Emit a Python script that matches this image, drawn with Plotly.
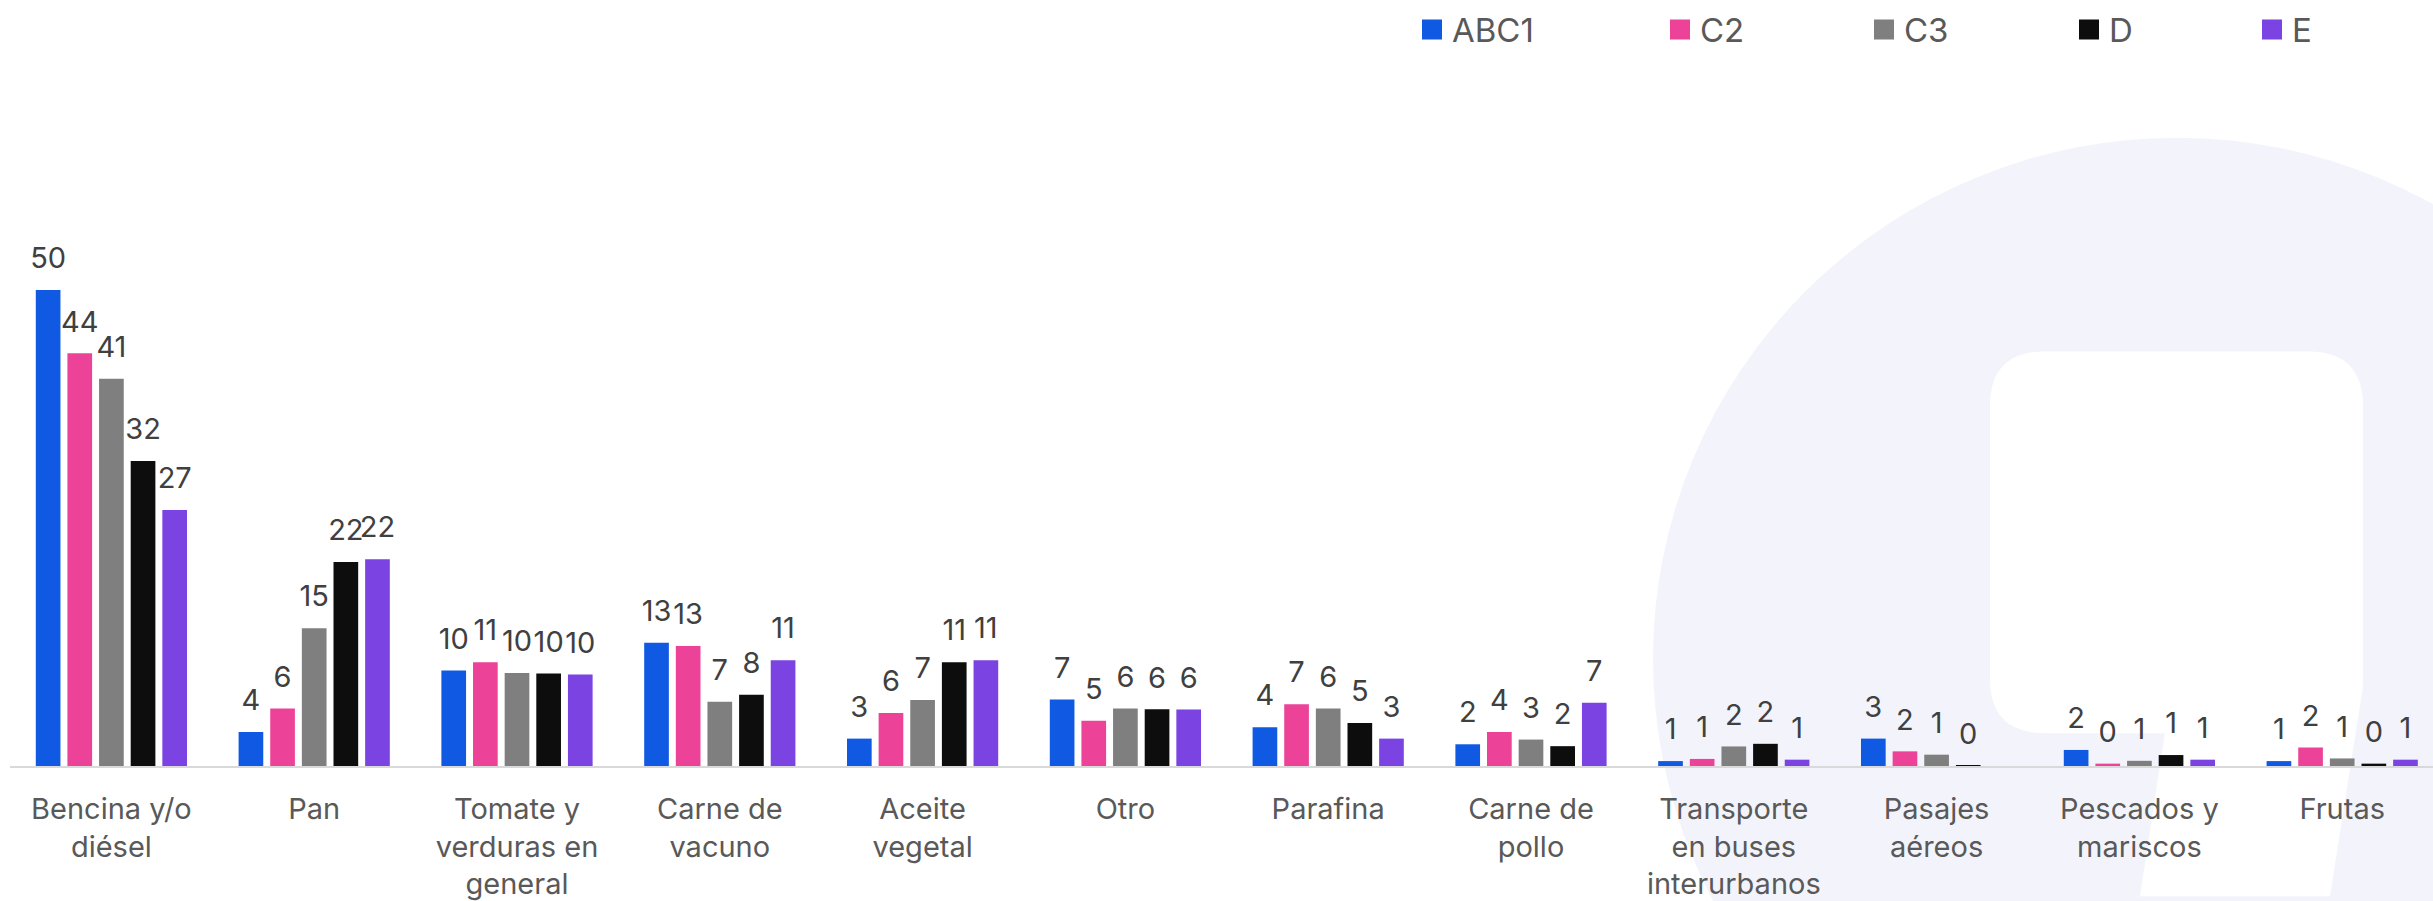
import plotly.graph_objects as go

# ---------------- data ----------------
categories = [
    "Bencina y/o<br>diésel", "Pan", "Tomate y<br>verduras en<br>general", "Carne de<br>vacuno",
    "Aceite<br>vegetal", "Otro", "Parafina", "Carne de<br>pollo",
    "Transporte<br>en buses<br>interurbanos", "Pasajes<br>aéreos", "Pescados y<br>mariscos", "Frutas",
]
series_names = ["ABC1", "C2", "C3", "D", "E"]
abc1 = [50.4, 3.6, 10.1, 13.05, 2.9, 7.05, 4.1, 2.3, 0.52, 2.9, 1.7, 0.52]
c2 = [43.7, 6.1, 11.0, 12.7, 5.6, 4.8, 6.55, 3.6, 0.75, 1.55, 0.25, 1.96]
c3 = [41.0, 14.6, 9.85, 6.8, 7.0, 6.1, 6.1, 2.8, 2.07, 1.2, 0.55, 0.8]
d = [32.3, 21.6, 9.8, 7.55, 11.0, 6.0, 4.55, 2.1, 2.35, 0.07, 1.16, 0.25]
e = [27.1, 21.9, 9.7, 11.2, 11.2, 5.97, 2.9, 6.7, 0.67, None, 0.67, 0.67]
series_values = [abc1, c2, c3, d, e]
series_colors = ["#1059E3", "#EC4399", "#7F7F7F", "#0D0D0D", "#7B43E2"]

# ---------------- layout constants ----------------
W, H = 2433, 901
ML, MR, MT, MB = 10, 0, 102, 131
PW, PH = W - ML - MR, H - MT - MB
PX_PER_CAT = 202.8
PX_PER_UNIT = 9.5
LABEL_LIFT = 1.25
FONT = "Inter"
FS = 29


def px_x(p):
    return (p - ML) / PW


def px_y(p):
    return (H - MB - p) / PH


def pt(x, y):
    return f"{px_x(x):.5f},{px_y(y):.5f}"


fig = go.Figure()

for i, (name, vals, col) in enumerate(zip(series_names, series_values, series_colors)):
    fig.add_trace(go.Bar(
        x=categories, y=vals, name=name, marker_color=col, marker_line_width=0,
        offsetgroup=str(i), showlegend=False,
    ))
    fig.add_trace(go.Bar(
        x=categories,
        y=[None if v is None else LABEL_LIFT for v in vals],
        base=[0 if v is None else v for v in vals],
        text=["" if v is None else f"{v:.0f}" for v in vals],
        textposition="outside", constraintext="none", cliponaxis=False,
        textfont=dict(family=FONT, size=FS, color="#404040"),
        marker_color="rgba(0,0,0,0)", marker_line_width=0,
        offsetgroup=str(i), showlegend=False, hoverinfo="skip",
    ))

# legend entries (one legend per series so positions match)
legend_sq_left = [1422, 1670, 1874, 2079, 2262]
legend_layout = {}
for i, (name, col) in enumerate(zip(series_names, series_colors)):
    lname = "legend" if i == 0 else f"legend{i + 1}"
    fig.add_trace(go.Scatter(
        x=[None], y=[None], mode="markers", name=name, legend=lname,
        marker=dict(symbol="square", size=16, color=col, line=dict(color=col, width=4)),
    ))
    legend_layout[lname] = dict(
        x=px_x(legend_sq_left[i] - 10), y=px_y(29), xanchor="left", yanchor="middle",
        orientation="h", bgcolor="rgba(0,0,0,0)", borderwidth=0,
        font=dict(family=FONT, size=33, color="#595959"),
    )

# background watermark
cx, cy, r = 2177, 662, 524
shapes = [
    dict(type="circle", xref="paper", yref="paper", layer="below",
         x0=px_x(cx - r), x1=px_x(cx + r), y0=px_y(cy + r), y1=px_y(cy - r),
         fillcolor="#F3F4FB", line=dict(width=0)),
]
x0, x1, y0, y1, rr = 1990, 2363, 353, 737, 55
path = (f"M{pt(x0 + rr, y0)} L{pt(x1 - rr, y0)} Q{pt(x1, y0)} {pt(x1, y0 + rr)} "
        f"L{pt(x1, y1 - rr)} Q{pt(x1, y1)} {pt(x1 - rr, y1)} L{pt(x0 + rr, y1)} "
        f"Q{pt(x0, y1)} {pt(x0, y1 - rr)} L{pt(x0, y0 + rr)} Q{pt(x0, y0)} {pt(x0 + rr, y0)} Z")
shapes.append(dict(type="path", xref="paper", yref="paper", layer="below", path=path,
                   fillcolor="#FFFFFF", line=dict(width=0)))
slot = (f"M{pt(2172, 690)} L{pt(2363, 690)} L{pt(2330, 901)} L{pt(2140, 901)} Z")
shapes.append(dict(type="path", xref="paper", yref="paper", layer="below", path=slot,
                   fillcolor="#FFFFFF", line=dict(width=0)))

fig.update_layout(
    width=W, height=H,
    margin=dict(l=ML, r=MR, t=MT, b=MB, pad=0),
    paper_bgcolor="white", plot_bgcolor="rgba(0,0,0,0)",
    barmode="group", bargap=0.22, bargroupgap=0.22,
    font=dict(family=FONT, size=FS, color="#595959"),
    shapes=shapes,
    **legend_layout,
)
fig.update_xaxes(
    range=[-0.5, -0.5 + PW / PX_PER_CAT], showgrid=False, zeroline=False,
    showline=True, linecolor="#D9D9D9", linewidth=2,
    ticks="", ticklabelstandoff=16,
    tickfont=dict(family=FONT, size=FS, color="#595959"),
)
fig.update_yaxes(
    range=[0, PH / PX_PER_UNIT], visible=False, showgrid=False, zeroline=False,
)

fig.write_html("out.html", config={"displayModeBar": False},
               post_script="document.body.style.margin='0';")
